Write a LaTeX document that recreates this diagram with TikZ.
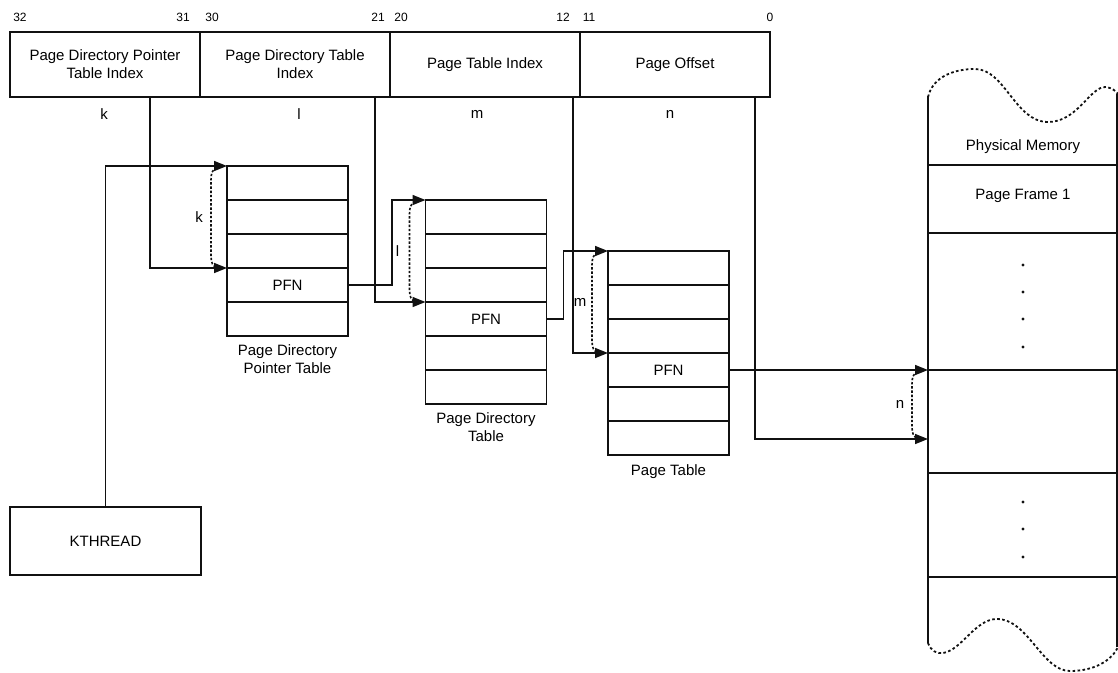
\documentclass[tikz,border=0pt]{standalone}
\usepackage{fontspec}
\setmainfont{Liberation Sans}
\usetikzlibrary{arrows.meta, positioning, calc}
\definecolor{ink}{HTML}{111111}
\tikzset{
  field/.style={
    rectangle, draw=ink, line width=1.6pt,
    minimum width=190pt, minimum height=65pt,
    inner sep=0pt, outer sep=0pt, align=center,
    font=\fontsize{15}{18}\selectfont,
  },
  entry/.style={
    rectangle, draw=ink, line width=1.6pt,
    minimum width=121pt, minimum height=34pt,
    inner sep=0pt, outer sep=0pt,
    font=\fontsize{15}{18}\selectfont,
  },
  caption/.style={align=center, inner sep=0pt, font=\fontsize{15}{18}\selectfont},
  bitnum/.style={inner sep=0pt, font=\fontsize{12}{13}\selectfont},
  idx/.style={inner sep=0pt, font=\fontsize{15}{17}\selectfont},
  link/.style={line width=1.5pt, draw=ink},
  arrow/.style={link, -{Triangle[length=13pt, width=10pt]}},
  span/.style={line width=1.6pt, draw=ink, dash pattern=on 2.4pt off 1.8pt},
  wave/.style={line width=1.8pt, draw=ink, dash pattern=on 2.6pt off 2.4pt},
}

\begin{document}
\begin{tikzpicture}[x=1pt, y=-1pt]
  \useasboundingbox (0,0) rectangle (1118,672);

  % linear address
  \node[field] (pdpti) at (105,64.5) {Page Directory Pointer\\Table Index};
  \node[field, right=0pt of pdpti] (pdti) {Page Directory Table\\Index};
  \node[field, right=0pt of pdti] (pti) {Page Table Index};
  \node[field, right=0pt of pti] (pofs) {Page Offset};

  \foreach \n/\x in {32/20, 31/183, 30/212, 21/378, 20/401, 12/563, 11/589, 0/770}
    \node[bitnum] (bit\n) at (\x,17) {\n};

  \node[idx] (idxk) at (104,114) {k};
  \node[idx] (idxl) at (299,114) {l};
  \node[idx] (idxm) at (477,114) {m};
  \node[idx] (idxn) at (670,114) {n};

  % tables
  \node[entry] (pdpt1) at (287.5,183) {};
  \foreach \i [count=\j from 2] in {1,...,4}
    \node[entry, below=0pt of pdpt\i] (pdpt\j) {};
  \node[entry] (pdt1) at (486,217) {};
  \foreach \i [count=\j from 2] in {1,...,5}
    \node[entry, below=0pt of pdt\i] (pdt\j) {};
  \node[entry] (pt1) at (668.5,268) {};
  \foreach \i [count=\j from 2] in {1,...,5}
    \node[entry, below=0pt of pt\i] (pt\j) {};

  \node[entry, draw=none] (pfna) at (pdpt4) {PFN};
  \node[entry, draw=none] (pfnb) at (pdt4) {PFN};
  \node[entry, draw=none] (pfnc) at (pt4) {PFN};

  \node[caption, below=8pt of pdpt5] (pdptcap) {Page Directory\\Pointer Table};
  \node[caption, below=8pt of pdt6] (pdtcap) {Page Directory\\Table};
  \node[caption, below=9pt of pt6] (ptcap) {Page Table};

  \node[field, minimum width=191pt, minimum height=68pt] (kthread) at (105.5,541) {KTHREAD};

  % physical memory
  \draw[link] (928,96) -- (928,643);
  \draw[link] (1117,94) -- (1117,647);
  \foreach \y in {165,233,473,577}
    \draw[link] (928,\y) -- (1117,\y);
  \draw[link, line width=2.2pt] (928,370) -- (1117,370);
  \draw[wave] (928,97) .. controls (933,76) and (955,69) .. (975,69)
    .. controls (1005,69) and (1015,122) .. (1048,122)
    .. controls (1078,122) and (1090,86) .. (1106,87)
    .. controls (1112,88) and (1116,91) .. (1118,94);
  \draw[wave] (928,643) .. controls (931,651) and (937,654) .. (943,653)
    .. controls (962,650) and (975,619) .. (997,619)
    .. controls (1028,619) and (1042,671) .. (1070,671)
    .. controls (1095,671) and (1112,660) .. (1118,647);
  \node[idx] (pmtitle) at (1023,147) {Physical Memory};
  \node[idx] (frame1) at (1023,196) {Page Frame 1};
  \foreach \y in {265,292,319,347,502,529,557}
    \fill[ink] (1023,\y) circle (1.6pt);
  \coordinate (pm1) at (928,370);
  \coordinate (pm2) at (928,439);

  % walk
  \draw[arrow] (kthread.north) |- (pdpt1.north west);
  \draw[arrow] ([xshift=45pt]pdpti.south) |- (pdpt4.north west);
  \draw[arrow] (pdpt4.east) -- ++(44,0) |- (pdt1.north west);
  \draw[arrow] ([xshift=80pt]pdti.south) |- (pdt4.north west);
  \draw[arrow] (pdt4.east) -- ++(17,0) |- (pt1.north west);
  \draw[arrow] ([xshift=88pt]pti.south) |- (pt4.north west);
  \draw[arrow] (pt4.east) -- (pm1);
  \draw[arrow] ([xshift=80pt]pofs.south) |- (pm2);

  \foreach \a/\b/\t in {pdpt1.north west/pdpt4.north west/k, pdt1.north west/pdt4.north west/l,
                        pt1.north west/pt4.north west/m, pm1/pm2/n} {
    \draw[span] ($(\a)+(-10,2)$) .. controls ($(\a)+(-15,3)$) and ($(\a)+(-16,8)$) .. ($(\a)+(-16,14)$)
      -- ($(\b)+(-16,-12)$) .. controls ($(\b)+(-16,-5)$) and ($(\b)+(-14,-1)$) .. ($(\b)+(-10,-1)$);
    \node[idx] (span\t) at ($(\a)!0.5!(\b)+(-28,0)$) {\t};
  }

\end{tikzpicture}
\end{document}
